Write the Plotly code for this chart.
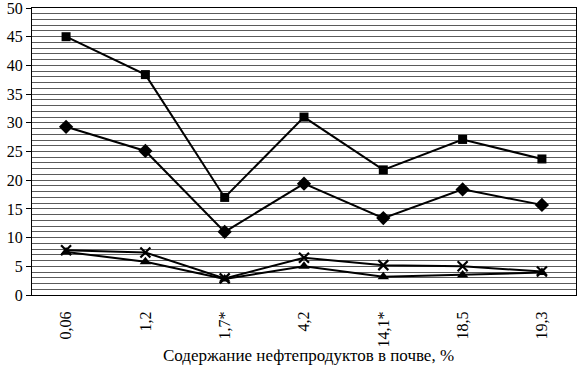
import plotly.graph_objects as go

categories = ["0,06", "1,2", "1,7*", "4,2", "14,1*", "18,5", "19,3"]
series_square = [45.0, 38.4, 17.0, 31.0, 21.8, 27.1, 23.7]
series_diamond = [29.3, 25.1, 11.0, 19.4, 13.4, 18.4, 15.7]
series_cross = [7.8, 7.4, 2.9, 6.5, 5.2, 5.0, 4.1]
series_triangle = [7.5, 5.8, 2.8, 5.0, 3.2, 3.5, 3.9]
y_ticks = [0, 5, 10, 15, 20, 25, 30, 35, 40, 45, 50]
x_title = "Содержание нефтепродуктов в почве, %"

FONT = "'Liberation Serif', 'Times New Roman', Tinos, 'DejaVu Serif', serif"

fig = go.Figure()

def add(vals, symbol, size, lw_marker=0):
    fig.add_trace(go.Scatter(
        x=categories, y=vals, mode="lines+markers",
        line=dict(color="black", width=2),
        marker=dict(symbol=symbol, size=size, color="black",
                    line=dict(color="black", width=lw_marker)),
        showlegend=False, cliponaxis=False,
    ))

add(series_square, "square", 9)
add(series_diamond, "diamond", 11)
add(series_triangle, "triangle-up", 10)
add(series_cross, "x-thin", 10, 2.2)

fig.update_layout(
    width=580, height=370,
    margin=dict(l=32, r=4, t=8, b=75, autoexpand=False),
    paper_bgcolor="white", plot_bgcolor="white",
    font=dict(family=FONT, size=16, color="black"),
)

fig.update_yaxes(
    range=[0, 50.001], tickvals=y_ticks, ticktext=[str(v) for v in y_ticks],
    showgrid=True, gridcolor="#5a5a5a", gridwidth=1,
    minor=dict(dtick=1, showgrid=True, gridcolor="#5a5a5a", gridwidth=1, ticks=""),
    ticks="outside", ticklen=5, tickcolor="black", tickwidth=1,
    showline=True, linecolor="black", linewidth=1, mirror=True,
    zeroline=False, tickfont=dict(family=FONT, size=16), automargin=False,
    ticklabeloverflow="allow",
)
fig.update_xaxes(
    type="category", tickangle=-90, ticks="", showgrid=False,
    showline=True, linecolor="black", linewidth=1, mirror=True,
    ticklabelstandoff=9, tickfont=dict(family=FONT, size=16), automargin=False,
    ticklabeloverflow="allow",
)

fig.add_annotation(
    text=x_title, xref="paper", yref="paper", x=0.508, y=0,
    yshift=-60, xanchor="center", yanchor="middle", showarrow=False,
    font=dict(family=FONT, size=17, color="black"),
)

fig.write_html("out.html", config={"displayModeBar": False},
               post_script="document.body.style.margin='0';")
